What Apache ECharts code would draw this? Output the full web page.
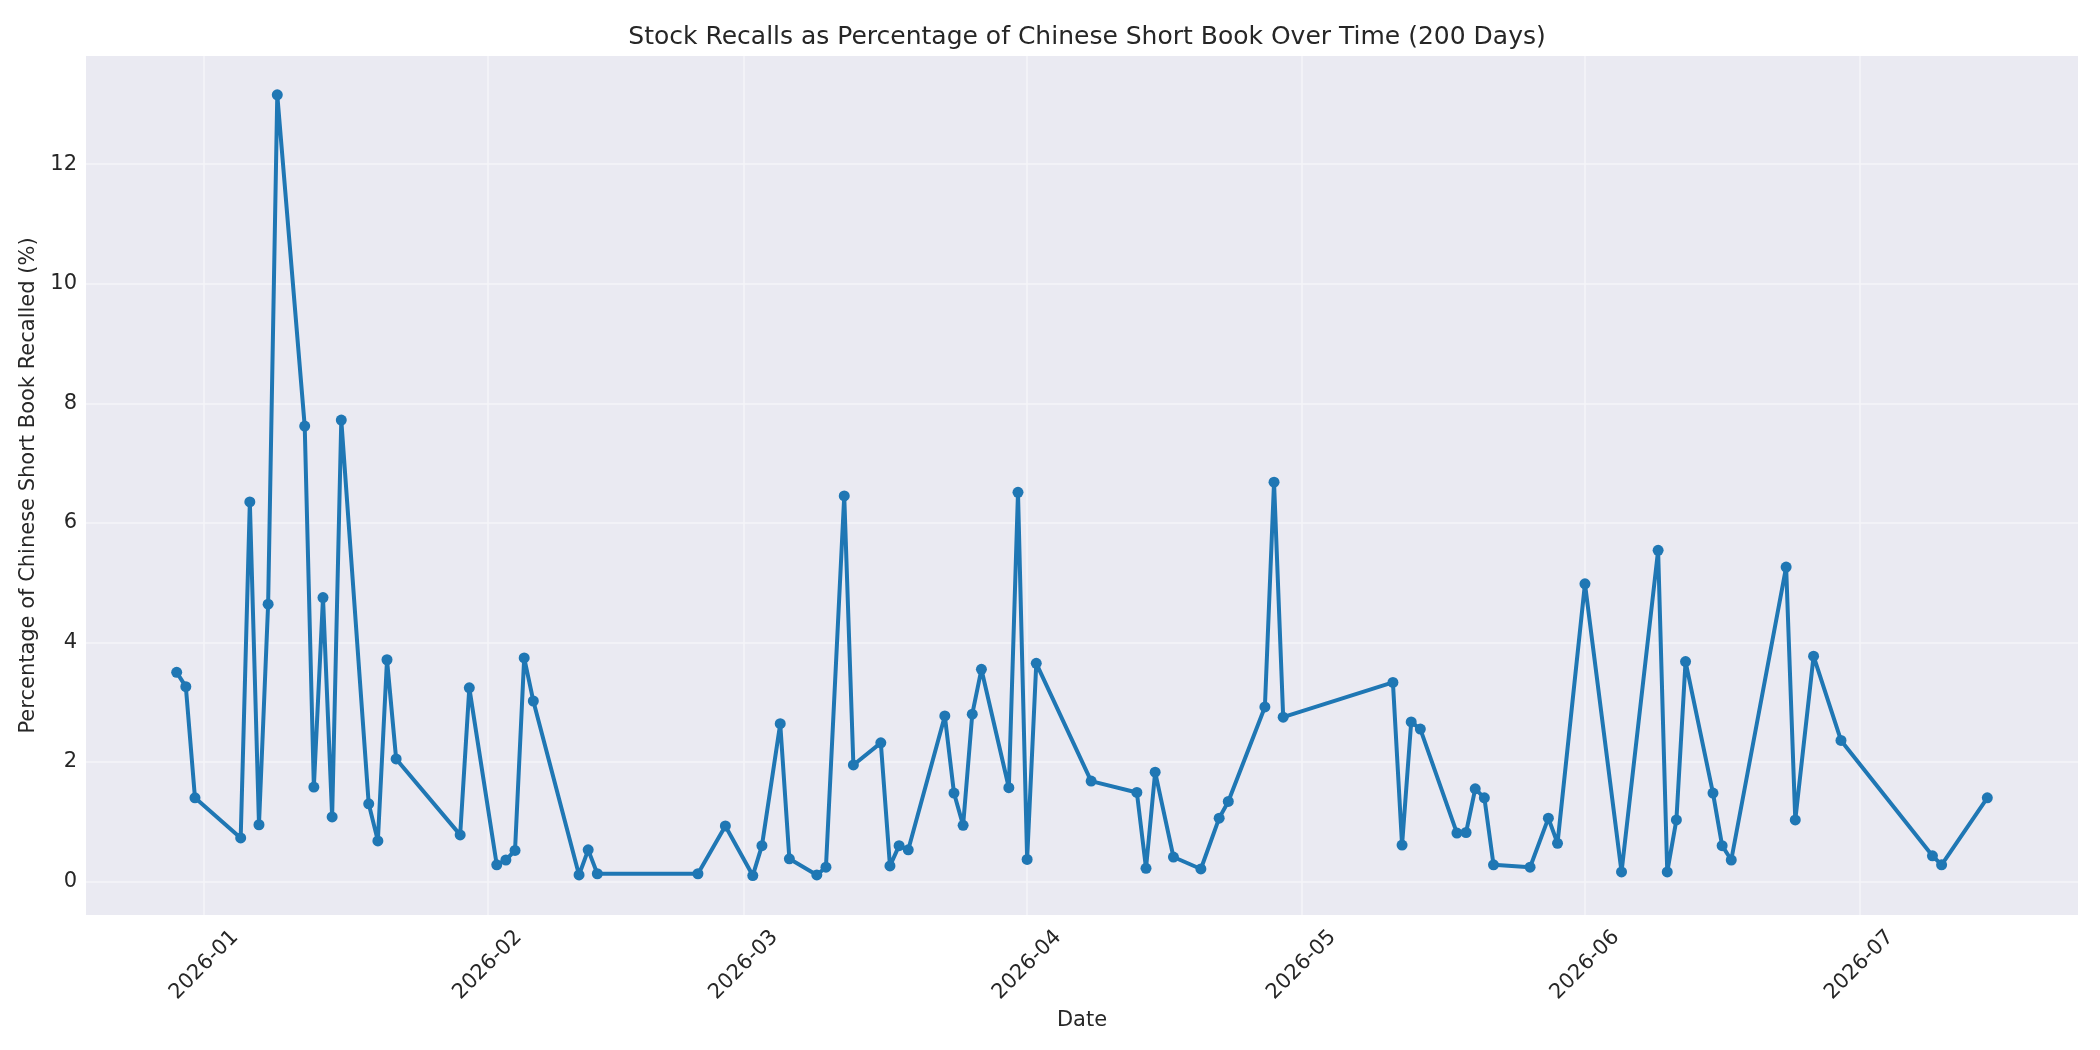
<!DOCTYPE html>
<html>
<head>
<meta charset="utf-8">
<script src="https://cdn.jsdelivr.net/npm/echarts@6/dist/echarts.min.js"></script>
<style>
  html, body { margin: 0; padding: 0; background: #fff; }
  #chart { width: 2100px; height: 1050px; }
</style>
</head>
<body>
<div id="chart"></div>
<script>
// dates of each observation
const dates = [
  '2025-12-29', '2025-12-30', '2025-12-31', '2026-01-05', '2026-01-06', '2026-01-07',
  '2026-01-08', '2026-01-09', '2026-01-12', '2026-01-13', '2026-01-14', '2026-01-15',
  '2026-01-16', '2026-01-19', '2026-01-20', '2026-01-21', '2026-01-22', '2026-01-29',
  '2026-01-30', '2026-02-02', '2026-02-03', '2026-02-04', '2026-02-05', '2026-02-06',
  '2026-02-11', '2026-02-12', '2026-02-13', '2026-02-24', '2026-02-27', '2026-03-02',
  '2026-03-03', '2026-03-05', '2026-03-06', '2026-03-09', '2026-03-10', '2026-03-12',
  '2026-03-13', '2026-03-16', '2026-03-17', '2026-03-18', '2026-03-19', '2026-03-23',
  '2026-03-24', '2026-03-25', '2026-03-26', '2026-03-27', '2026-03-30', '2026-03-31',
  '2026-04-01', '2026-04-02', '2026-04-08', '2026-04-13', '2026-04-14', '2026-04-15',
  '2026-04-17', '2026-04-20', '2026-04-22', '2026-04-23', '2026-04-27', '2026-04-28',
  '2026-04-29', '2026-05-11', '2026-05-12', '2026-05-13', '2026-05-14', '2026-05-18',
  '2026-05-19', '2026-05-20', '2026-05-21', '2026-05-22', '2026-05-26', '2026-05-28',
  '2026-05-29', '2026-06-01', '2026-06-05', '2026-06-09', '2026-06-10', '2026-06-11',
  '2026-06-12', '2026-06-15', '2026-06-16', '2026-06-17', '2026-06-23', '2026-06-24',
  '2026-06-26', '2026-06-29', '2026-07-09', '2026-07-10', '2026-07-15'
];
// % of short book recalled
const recallPct = [
  3.50, 3.26, 1.40, 0.73, 6.35, 0.95,
  4.64, 13.16, 7.62, 1.58, 4.75, 1.08,
  7.72, 1.30, 0.68, 3.71, 2.05, 0.78,
  3.24, 0.28, 0.36, 0.52, 3.74, 3.02,
  0.11, 0.53, 0.13, 0.13, 0.93, 0.10,
  0.60, 2.64, 0.38, 0.11, 0.24, 6.45,
  1.95, 2.32, 0.26, 0.60, 0.53, 2.77,
  1.48, 0.94, 2.80, 3.55, 1.57, 6.51,
  0.37, 3.65, 1.68, 1.49, 0.22, 1.83,
  0.41, 0.21, 1.06, 1.34, 2.92, 6.68,
  2.75, 3.33, 0.61, 2.67, 2.55, 0.81,
  0.82, 1.55, 1.40, 0.28, 0.24, 1.06,
  0.64, 4.98, 0.16, 5.54, 0.16, 1.03,
  3.68, 1.48, 0.60, 0.36, 5.26, 1.03,
  3.77, 2.36, 0.43, 0.28, 1.40
];
// tick labels
const monthTicks = ['2026-01-01', '2026-02-01', '2026-03-01', '2026-04-01', '2026-05-01', '2026-06-01', '2026-07-01'];
const yTicks = [0, 2, 4, 6, 8, 10, 12];

const textColor = '#262626';
const font = 'DejaVu Sans';

const chart = echarts.init(document.getElementById('chart'));

// dates -> timestamps, the x axis is a plain value axis of ms
const toTime = s => echarts.time.parse(s).getTime();
const monthTimes = monthTicks.map(toTime);
const seriesData = dates.map((d, i) => [toTime(d), recallPct[i]]);

const option = {
  animation: false,
  backgroundColor: '#ffffff',
  textStyle: { fontFamily: font },
  title: {
    text: 'Stock Recalls as Percentage of Chinese Short Book Over Time (200 Days)',
    left: 1082,
    top: 20,
    textAlign: 'center',
    textStyle: { fontFamily: font, fontSize: 25, fontWeight: 'normal', color: textColor }
  },
  grid: {
    left: 86, right: 22, top: 56, bottom: 135,
    show: true, backgroundColor: '#EAEAF2', borderWidth: 0
  },
  xAxis: {
    type: 'value',
    min: toTime('2025-12-19 02:00'),
    max: toTime('2026-07-24 22:00'),
    name: 'Date',
    nameLocation: 'middle',
    nameGap: 88,
    nameTextStyle: { fontFamily: font, fontSize: 21, color: textColor },
    axisLine: { show: false },
    axisTick: { show: false },
    splitLine: { show: false },
    axisLabel: {
      customValues: monthTimes,
      rotate: 45,
      align: 'center',
      verticalAlign: 'middle',
      margin: 50,
      fontFamily: font,
      fontSize: 21,
      color: textColor,
      formatter: v => echarts.time.format(v, '{yyyy}-{MM}', false)
    }
  },
  yAxis: {
    type: 'value',
    min: -0.56,
    max: 13.81,
    name: 'Percentage of Chinese Short Book Recalled (%)',
    nameLocation: 'middle',
    nameGap: 38,
    nameTextStyle: { fontFamily: font, fontSize: 21, color: textColor },
    axisLine: { show: false },
    axisTick: { show: false },
    splitLine: { show: false },
    axisLabel: {
      customValues: yTicks,
      margin: 9,
      fontFamily: font,
      fontSize: 21,
      color: textColor
    }
  },
  series: [
    {
      // grid lines drawn beneath the data
      type: 'line',
      data: [],
      z: 1,
      silent: true,
      markLine: {
        z: 1,
        silent: true,
        symbol: 'none',
        label: { show: false },
        lineStyle: { color: '#f5f5f8', width: 1.5, type: 'solid' },
        data: monthTimes.map(m => ({ xAxis: m })).concat(yTicks.map(v => ({ yAxis: v })))
      }
    },
    {
      type: 'line',
      data: seriesData,
      z: 3,
      symbol: 'circle',
      symbolSize: 11,
      showSymbol: true,
      lineStyle: { color: '#1f77b4', width: 4 },
      itemStyle: { color: '#1f77b4' }
    }
  ]
};

chart.setOption(option);
</script>
</body>
</html>
